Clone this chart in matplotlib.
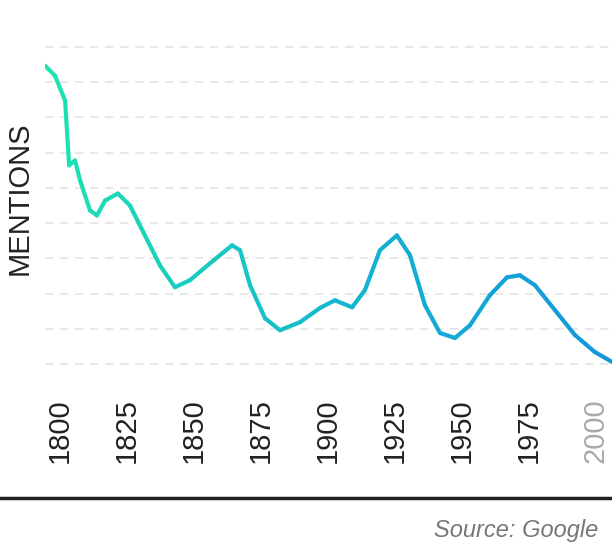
import numpy as np
import matplotlib.pyplot as plt
from matplotlib.collections import LineCollection
from matplotlib.colors import LinearSegmentedColormap

# Mentions over time (arbitrary units)
years = [1794.4, 1798.1, 1801.9, 1803.4, 1805.6, 1807.5, 1811.2, 1813.8, 1816.8, 1821.6,
         1826.1, 1831.7, 1837.3, 1842.9, 1848.5, 1856.0, 1864.2, 1867.2, 1870.9, 1876.5,
         1882.1, 1889.6, 1897.0, 1902.6, 1909.0, 1913.8, 1919.4, 1925.7, 1930.6, 1936.2,
         1941.8, 1947.4, 1953.0, 1960.4, 1966.8, 1971.6, 1977.2, 1984.7, 1992.2, 1999.6, 2006.0]
mentions = [8.47, 8.19, 7.48, 5.64, 5.78, 5.21, 4.36, 4.22, 4.64, 4.84,
            4.50, 3.65, 2.80, 2.18, 2.38, 2.86, 3.37, 3.23, 2.24, 1.30,
            0.96, 1.19, 1.59, 1.81, 1.61, 2.10, 3.23, 3.65, 3.09, 1.67,
            0.88, 0.74, 1.10, 1.95, 2.46, 2.52, 2.24, 1.53, 0.82, 0.34, 0.06]
tick_years = [1800, 1825, 1850, 1875, 1900, 1925, 1950, 1975, 2000]
grid_levels = list(range(10))

plt.rcParams['font.family'] = 'Liberation Sans'

fig = plt.figure(figsize=(6.12, 5.44), dpi=100)
ax = fig.add_axes([45 / 612, 1 - 380 / 544, 1 - 45 / 612, 350 / 544])

for g in grid_levels:
    ax.axhline(g, color='#e4e4e4', lw=1.2, ls=(0, (5, 4)), zorder=0)

x = np.array(years)
y = np.array(mentions)
pts = np.column_stack([x, y]).reshape(-1, 1, 2)
segs = np.concatenate([pts[:-1], pts[1:]], axis=1)
cmap = LinearSegmentedColormap.from_list('g', ['#1ee3b0', '#13b8cf', '#1396dc'])
lc = LineCollection(segs, cmap=cmap, linewidth=3, capstyle='round', joinstyle='round')
lc.set_array((x[:-1] + x[1:]) / 2)
lc.set_clim(1794, 2006)
ax.add_collection(lc)

ax.set_xlim(1794.4, 2006)
ax.set_ylim(-0.454, 9.483)
ax.set_xticks(tick_years)
ax.set_xticklabels([str(t) for t in tick_years], rotation=90, fontsize=21, color='#222222')
ax.get_xticklabels()[-1].set_color('#aaaaaa')
ax.tick_params(axis='x', length=0, pad=13)
ax.set_yticks([])
for s in ax.spines.values():
    s.set_visible(False)

fig.text(20 / 612, 1 - 198 / 544, 'MENTIONS', rotation=90, ha='center', va='center',
         fontsize=21, color='#222222')
fig.add_artist(plt.Line2D([0, 1], [1 - 498 / 544] * 2, color='#222222', lw=2.5))
fig.text(598 / 612, 1 - 530 / 544, 'Source: Google', ha='right', va='center',
         fontsize=17, style='italic', color='#777777')

fig.savefig('out.png', dpi=100)
